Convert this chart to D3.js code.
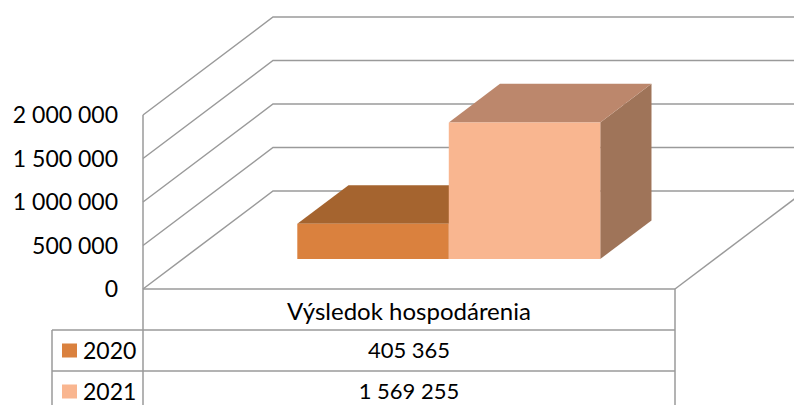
<!DOCTYPE html>
<html>
<head>
<meta charset="utf-8">
<script src="https://cdn.jsdelivr.net/npm/d3@7"></script>
<style>
  body { margin: 0; background: #fff; }
  text { font-family: Lato, "Open Sans", sans-serif; fill: #000; }
</style>
</head>
<body>
<div class="canvas"></div>
<script>
// data
var categories = ["Výsledok hospodárenia"]
var seriesNames = ["2020", "2021"]
var values2020 = [405365]
var values2021 = [1569255]
var yTicks = [0, 500000, 1000000, 1500000, 2000000]

var allValues = [values2020, values2021]
var frontColors = ["#da813e", "#f9b690"]
var topColors = ["#a5642f", "#bc876c"]
var sideColors = ["#84502a", "#9f7459"]

var svg = d3.select(".canvas").append("svg").attr("width", 794).attr("height", 405)

// 3d frame
var left = 143, right = 675, floorY = 289
var depthX = 130, depthY = -98
var gridColor = "#9a9a9a"

var y = d3.scaleLinear().domain([0, 2000000]).range([0, 174])
var x = d3.scaleBand().domain(categories).range([left, right])
var xs = d3.scaleBand().domain(seriesNames).range([0, x.bandwidth()]).paddingOuter(0.756).paddingInner(0)

var fmt = function(v) { return d3.format(",")(v).replace(/,/g, " ") }

// project (front x, value, depth fraction) to screen
function P(px, v, d) {
    return [px + depthX * d, floorY - y(v) + depthY * d]
}

var grid = svg.append("g").attr("stroke", gridColor).attr("stroke-width", 1.5).attr("fill", "none")

// gridlines: left wall diagonal + back wall horizontal
yTicks.forEach(function(t) {
    var a = P(left, t, 0), b = P(left, t, 1)
    grid.append("polyline")
        .attr("points", [a, b, [794, b[1]]].map(function(p) { return p.join(",") }).join(" "))
})

// left wall vertical
grid.append("line")
    .attr("x1", left).attr("y1", P(left, 2000000, 0)[1])
    .attr("x2", left).attr("y2", floorY)

// floor front edge and right edge
var fr0 = P(right, 0, 0), fr1 = P(right, 0, 1)
grid.append("line").attr("x1", left).attr("y1", floorY).attr("x2", right).attr("y2", floorY)
grid.append("line").attr("x1", fr0[0]).attr("y1", fr0[1]).attr("x2", fr1[0]).attr("y2", fr1[1])

// y tick labels
svg.append("g").selectAll("text")
    .data(yTicks)
    .enter().append("text")
    .attr("x", 118)
    .attr("y", function(d) { return floorY - y(d) })
    .attr("dy", "0.36em")
    .attr("text-anchor", "end")
    .attr("font-size", 23)
    .text(fmt)

// bars
var d0 = 0.306, d1 = 0.70
var bars = svg.append("g")
seriesNames.forEach(function(s, i) {
    categories.forEach(function(c, j) {
        var v = allValues[i][j]
        var x0 = x(c) + xs(s), x1 = x0 + xs.bandwidth()
        var pts = function(arr) { return arr.map(function(p) { return p.join(",") }).join(" ") }
        // side face
        bars.append("polygon")
            .attr("points", pts([P(x1, 0, d0), P(x1, 0, d1), P(x1, v, d1), P(x1, v, d0)]))
            .attr("fill", sideColors[i])
        // top face
        bars.append("polygon")
            .attr("points", pts([P(x0, v, d0), P(x0, v, d1), P(x1, v, d1), P(x1, v, d0)]))
            .attr("fill", topColors[i])
        // front face
        bars.append("polygon")
            .attr("points", pts([P(x0, 0, d0), P(x0, v, d0), P(x1, v, d0), P(x1, 0, d0)]))
            .attr("fill", frontColors[i])
    })
})

// data table
var tLeft = 52, rowH = 41
var table = svg.append("g").attr("stroke", gridColor).attr("stroke-width", 1.5).attr("fill", "none")
table.append("line").attr("x1", left).attr("y1", floorY).attr("x2", left).attr("y2", 405)
table.append("line").attr("x1", right).attr("y1", floorY).attr("x2", right).attr("y2", 405)
table.append("line").attr("x1", tLeft).attr("y1", floorY + rowH).attr("x2", tLeft).attr("y2", 405)
seriesNames.forEach(function(s, i) {
    var yy = floorY + rowH * (i + 1)
    table.append("line").attr("x1", tLeft).attr("y1", yy).attr("x2", right).attr("y2", yy)
})

categories.forEach(function(c) {
    svg.append("text")
        .attr("x", x(c) + x.bandwidth() / 2)
        .attr("y", floorY + rowH / 2 + 2)
        .attr("dy", "0.36em")
        .attr("text-anchor", "middle")
        .attr("font-size", 24)
        .text(c)
})

seriesNames.forEach(function(s, i) {
    var cy = floorY + rowH * (i + 1) + rowH / 2
    svg.append("rect")
        .attr("x", 62).attr("y", cy - 7)
        .attr("width", 15).attr("height", 14)
        .attr("fill", frontColors[i])
    svg.append("text")
        .attr("x", 83).attr("y", cy)
        .attr("dy", "0.36em")
        .attr("font-size", 23)
        .text(s)
    categories.forEach(function(c, j) {
        svg.append("text")
            .attr("x", x(c) + x.bandwidth() / 2)
            .attr("y", cy)
            .attr("dy", "0.36em")
            .attr("text-anchor", "middle")
            .attr("font-size", 22)
            .text(fmt(allValues[i][j]))
    })
})
</script>
</body>
</html>
